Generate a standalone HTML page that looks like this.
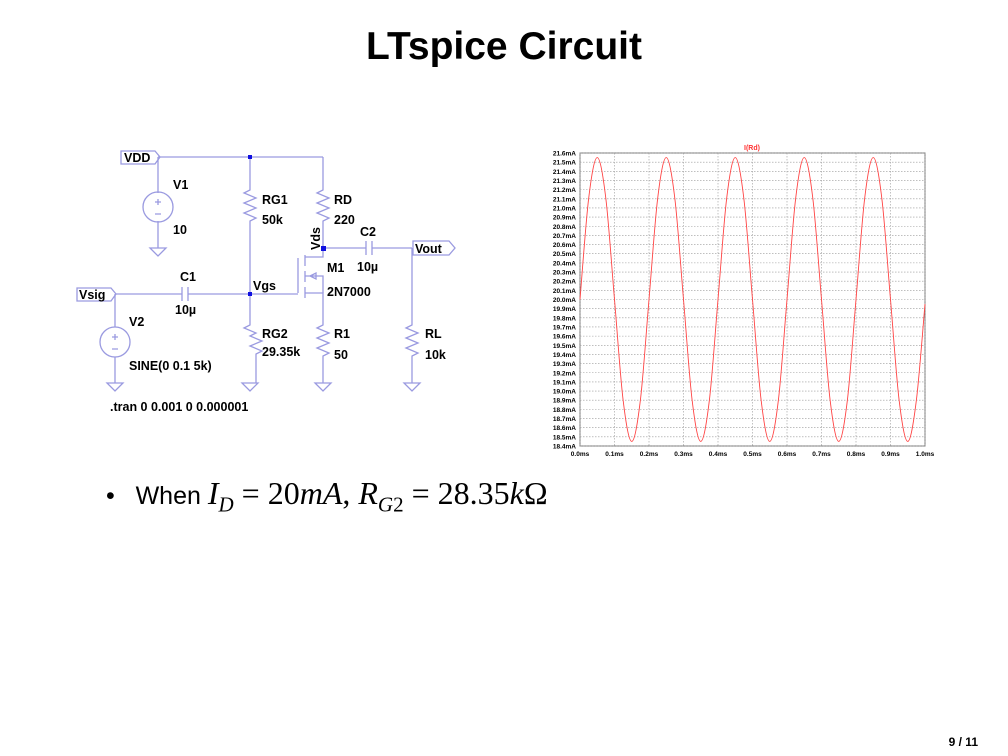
<!DOCTYPE html>
<html><head><meta charset="utf-8"><style>
html,body{margin:0;padding:0;background:#fff}
body{width:1008px;height:756px;position:relative;overflow:hidden;font-family:"Liberation Sans",sans-serif}
#title{position:absolute;left:0;width:1008px;top:25px;text-align:center;font-size:39px;font-weight:bold;color:#000}
#bullet{position:absolute;left:106px;top:475px;font-size:25px;color:#000;white-space:nowrap}
#bullet .m{font-family:"Liberation Serif",serif;font-size:32px}
#page{position:absolute;right:30px;top:735px;font-size:12px;font-weight:bold}
svg{position:absolute;left:0;top:0}
.lb{font-family:"Liberation Sans",sans-serif;font-weight:bold;font-size:12.5px;fill:#000}
</style></head><body>
<div id="title">LTspice Circuit</div>
<svg width="1008" height="756">
<g stroke="#9a9ae0" stroke-width="1.3" fill="none">
<path d="M158 157H323"/>
<path d="M158 157V193M158 221V248"/>
<circle cx="158" cy="207" r="15"/>
<path d="M250 157V190l-6 3l12 5l-12 5l12 5l-12 5l12 5l-6 3V325l-6 3l12 5l-6 3l12 5l-12 5l12 5l-6 3V383"/>
<path d="M323 157V190l-6 3l12 5l-12 5l12 5l-12 5l12 5l-6 3V257H305"/>
<path d="M323 248H366M372 248H412M412 248V325l-6 3l12 5l-12 5l12 5l-12 5l12 5l-6 3V383"/>
<path d="M366 241V255M372 241V255"/>
<path d="M115 294H182M188 294H298M182 287V301M188 287V301"/>
<path d="M298 258V293M305 255V266M305 271V282M305 287V298"/>
<path d="M305 293H323V325l-6 3l12 5l-12 5l12 5l-12 5l12 5l-6 3V383"/>
<path d="M305 276H323V293M310 276l6-3v6z"/>
<path d="M115 294V327M115 357V383"/>
<circle cx="115" cy="342" r="15"/>
<path d="M115 334v6M112 337h6M112 349h6M158 199v6M155 202h6M155 214h6"/>
<path d="M150 248h16l-8 8zM107 383h16l-8 8zM242 383h16l-8 8zM315 383h16l-8 8zM404 383h16l-8 8z"/>
<path d="M121 151H155L160 157L155 164H121Z"/>
<path d="M77 288H111L116 294L111 301H77Z"/>
<path d="M413 241H449L455 248L449 255H413Z"/>
</g>
<g fill="#1010e0"><rect x="248" y="155" width="4" height="4"/><rect x="321" y="246" width="5" height="5"/><rect x="248" y="292" width="4" height="4"/></g>
<text class="lb" x="124" y="162">VDD</text><text class="lb" x="79" y="299">Vsig</text><text class="lb" x="415" y="253">Vout</text>
<text class="lb" x="173" y="189">V1</text><text class="lb" x="173" y="234">10</text>
<text class="lb" x="262" y="204">RG1</text><text class="lb" x="262" y="224">50k</text>
<text class="lb" x="334" y="204">RD</text><text class="lb" x="334" y="224">220</text>
<text class="lb" x="360" y="236">C2</text><text class="lb" x="357" y="271">10µ</text>
<text class="lb" x="327" y="272">M1</text><text class="lb" x="327" y="296">2N7000</text>
<text class="lb" transform="translate(320,250) rotate(-90)">Vds</text>
<text class="lb" x="180" y="281">C1</text><text class="lb" x="175" y="314">10µ</text>
<text class="lb" x="253" y="290">Vgs</text>
<text class="lb" x="129" y="326">V2</text><text class="lb" x="129" y="370">SINE(0 0.1 5k)</text>
<text class="lb" x="262" y="338">RG2</text><text class="lb" x="262" y="356">29.35k</text>
<text class="lb" x="334" y="338">R1</text><text class="lb" x="334" y="359">50</text>
<text class="lb" x="425" y="338">RL</text><text class="lb" x="425" y="359">10k</text>
<text class="lb" x="110" y="411">.tran 0 0.001 0 0.000001</text>
</svg>
<svg id="chart" width="1008" height="756"></svg>
<div id="bullet">&#8226;&nbsp;&nbsp; When <span class="m"><i>I<sub style="font-size:21px">D</sub></i> = 20<i>mA</i>, <i>R<sub style="font-size:21px">G</sub></i><sub style="font-size:21px">2</sub> = 28.35<i>k</i>Ω</span></div>
<div id="page">9 / 11</div>
<script>
const times=[0,0.025,0.05,0.075,0.1,0.125,0.15,0.175,0.2,0.225,0.25,0.275,0.3,0.325,0.35,0.375,0.4,0.425,0.45,0.475,0.5,0.525,0.55,0.575,0.6,0.625,0.65,0.675,0.7,0.725,0.75,0.775,0.8,0.825,0.85,0.875,0.9,0.925,0.95,0.975,1.0];
const currents=[20.0,21.1,21.55,21.1,20.0,18.9,18.45,18.9,20.0,21.1,21.55,21.1,20.0,18.9,18.45,18.9,20.0,21.1,21.55,21.1,20.0,18.9,18.45,18.9,20.0,21.1,21.55,21.1,20.0,18.9,18.45,18.9,20.0,21.1,21.55,21.1,20.0,18.9,18.45,18.9,19.95];
const xTicks=[0,0.1,0.2,0.3,0.4,0.5,0.6,0.7,0.8,0.9,1.0];
const yTicks=[18.4,18.5,18.6,18.7,18.8,18.9,19.0,19.1,19.2,19.3,19.4,19.5,19.6,19.7,19.8,19.9,20.0,20.1,20.2,20.3,20.4,20.5,20.6,20.7,20.8,20.9,21.0,21.1,21.2,21.3,21.4,21.5,21.6];
const svg=document.getElementById('chart'),NS='http://www.w3.org/2000/svg';
const L=580,R=925,T=153,B=446;
const sx=t=>L+(t-0)/(1-0)*(R-L), sy=v=>B-(v-18.4)/(21.6-18.4)*(B-T);
function mk(tag,a){const e=document.createElementNS(NS,tag);for(const k in a)e.setAttribute(k,a[k]);svg.appendChild(e);return e;}
mk('rect',{x:L,y:T,width:R-L,height:B-T,fill:'none',stroke:'#777','stroke-width':1});
yTicks.forEach(v=>{const y=sy(v);
const g=mk('line',{x1:L,x2:R,y1:y,y2:y,stroke:'#999','stroke-width':0.6,'stroke-dasharray':'1.5,1.5'});

const t=mk('text',{x:L-4,y:y+2.5,'text-anchor':'end','font-size':'6.5','font-weight':'bold','font-family':'Liberation Sans'});t.textContent=v.toFixed(1)+'mA';
});
xTicks.forEach(v=>{const x=sx(v);
const g=mk('line',{x1:x,x2:x,y1:T,y2:B,stroke:'#999','stroke-width':0.6,'stroke-dasharray':'1.5,1.5'});

const t=mk('text',{x:x,y:B+10,'text-anchor':'middle','font-size':'6.5','font-weight':'bold','font-family':'Liberation Sans'});t.textContent=v.toFixed(1)+'ms';
});
const tt=mk('text',{x:752,y:150,'text-anchor':'middle','font-size':'7','font-weight':'bold',fill:'#f33','font-family':'Liberation Sans'});tt.textContent='I(Rd)';

const P=times.map((t,i)=>[sx(t),sy(currents[i])]);
let d='M'+P[0][0]+' '+P[0][1];
for(let i=0;i<P.length-1;i++){const p0=P[Math.max(0,i-1)],p1=P[i],p2=P[i+1],p3=P[Math.min(P.length-1,i+2)];
d+=' C'+(p1[0]+(p2[0]-p0[0])/6)+' '+(p1[1]+(p2[1]-p0[1])/6)+' '+(p2[0]-(p3[0]-p1[0])/6)+' '+(p2[1]-(p3[1]-p1[1])/6)+' '+p2[0]+' '+p2[1];}
const line=mk('path',{d:d,fill:'none',stroke:'#f44','stroke-width':0.9});


</script>
</body></html>
